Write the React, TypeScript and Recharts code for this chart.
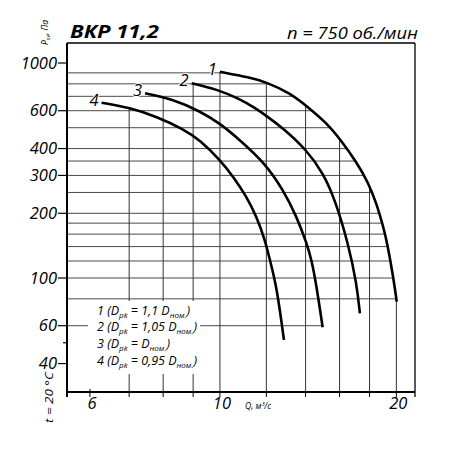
import React from 'react';
import { LineChart, Line, XAxis, YAxis, ReferenceLine } from 'recharts';

// ---- axes ----
const X_DOMAIN: [number, number] = [5.483, 21.52];
const Y_DOMAIN: [number, number] = [29.5, 1239];
const X_TICKS = [6, 7, 8, 9, 10, 12, 14, 16, 18, 20];
const X_LABELS = [6, 10, 20];
const Y_TICKS = [40, 50, 60, 100, 200, 300, 400, 600, 1000];
const Y_LABELS = [40, 60, 100, 200, 300, 400, 600, 1000];

// ---- grid levels ----
const GRID_Y = [900, 800, 700, 600, 500, 400, 350, 300, 250, 200, 180, 160, 140, 120, 100, 80, 60];
const GRID_X = [7, 8, 9, 10, 12, 14, 16, 18, 20];

// ---- curves (Q, m3/s ; P, Pa) ----
const CURVE_LABELS = ['1', '2', '3', '4'];
const Q1 = [10.0, 11.25, 11.98, 13.17, 14.06, 15.21, 16.03, 17.11, 17.91, 18.51, 19.0, 19.3, 19.76, 20.03];
const P1 = [911, 856, 816, 725, 631, 526, 443, 346, 278, 221, 173, 145, 101, 77.6];
const Q2 = [8.95, 9.87, 10.82, 11.47, 11.98, 12.82, 14.06, 15.01, 15.72, 16.55, 17.11, 17.33];
const P2 = [805, 755, 680, 618, 570, 497, 394, 307, 231, 145, 94.5, 68.5];
const Q3 = [7.45, 8.32, 9.245, 10.0, 10.82, 11.94, 12.82, 13.52, 14.06, 14.34, 14.62, 14.97];
const P3 = [723, 678, 597, 524, 438, 342, 257, 193, 145, 121, 91.1, 59];
const Q4 = [6.28, 7.02, 7.8, 8.66, 9.245, 10.0, 10.54, 11.1, 11.55, 11.94, 12.17, 12.5, 12.86];
const P4 = [654, 620, 563, 493, 438, 354, 296, 239, 193, 150, 121, 91.1, 51.5];

const CURVES = [
  { xs: Q1, ys: P1 },
  { xs: Q2, ys: P2 },
  { xs: Q3, ys: P3 },
  { xs: Q4, ys: P4 },
];

const lg = Math.log10;

function xAtLevel(xs: number[], ys: number[], L: number): number | null {
  for (let i = 0; i < xs.length - 1; i++) {
    if ((ys[i] - L) * (ys[i + 1] - L) <= 0) {
      const t = (lg(L) - lg(ys[i])) / (lg(ys[i + 1]) - lg(ys[i]));
      return Math.pow(10, lg(xs[i]) + t * (lg(xs[i + 1]) - lg(xs[i])));
    }
  }
  return null;
}

function yAtX(xs: number[], ys: number[], X: number): number | null {
  for (let i = 0; i < xs.length - 1; i++) {
    if ((xs[i] - X) * (xs[i + 1] - X) <= 0) {
      const t = (lg(X) - lg(xs[i])) / (lg(xs[i + 1]) - lg(xs[i]));
      return Math.pow(10, lg(ys[i]) + t * (lg(ys[i + 1]) - lg(ys[i])));
    }
  }
  return null;
}

const H_SEGMENTS = GRID_Y.map((L) => {
  const ends = CURVES.map((c) => xAtLevel(c.xs, c.ys, L)).filter((v) => v != null) as number[];
  return { L, x2: ends.length ? Math.max(...ends) : null };
}).filter((s) => s.x2 != null) as { L: number; x2: number }[];

const V_SEGMENTS = GRID_X.map((X) => {
  const tops = CURVES.map((c) => yAtX(c.xs, c.ys, X)).filter((v) => v != null) as number[];
  return { X, y2: tops.length ? Math.max(...tops) : null };
}).filter((s) => s.y2 != null) as { X: number; y2: number }[];

const FONT = "'Open Sans', sans-serif";

const YTick = (props: any) => {
  const { x, y, payload } = props;
  const v = payload.value;
  const labeled = Y_LABELS.includes(v);
  return (
    <g>
      <line x1={x - (labeled ? 9 : 4)} x2={x} y1={y} y2={y} stroke="#000" strokeWidth={1.2} />
      {labeled && (
        <text x={x - 10} y={y} dy={5.5} textAnchor="end" fontFamily={FONT} fontStyle="italic" fontSize={16.5} fill="#000">
          {v}
        </text>
      )}
    </g>
  );
};

const XTick = (props: any) => {
  const { x, y, payload } = props;
  const v = payload.value;
  const labeled = X_LABELS.includes(v);
  const isEdge = !X_TICKS.includes(v);
  return (
    <g>
      <line
        x1={x}
        x2={x}
        y1={v === 6 ? y - 3 : y}
        y2={y + 5}
        stroke="#000"
        strokeWidth={isEdge ? (v === X_DOMAIN[0] ? 2 : 1.3) : 1}
      />
      {labeled && (
        <text x={x + 2} y={y + 17} textAnchor="middle" fontFamily={FONT} fontStyle="italic" fontSize={16.5} fill="#000">
          {v}
        </text>
      )}
    </g>
  );
};

const makeLabelDot = (label: string) => (props: any) => {
  const { cx, cy, index } = props;
  if (index !== 0) return <g key={`d-${label}-${index}`} />;
  return (
    <text
      key={`lbl-${label}`}
      x={cx - 3}
      y={cy + 3}
      textAnchor="end"
      fontFamily={FONT}
      fontStyle="italic"
      fontSize={16.5}
      fill="#000"
      stroke="#fff"
      strokeWidth={2}
      paintOrder="stroke"
    >
      {label}
    </text>
  );
};

const LEGEND_LINES: [string, string, string][] = [
  ['1 (D', ' = 1,1 D', ')'],
  ['2 (D', ' = 1,05 D', ')'],
  ['3 (D', ' = D', ')'],
  ['4 (D', ' = 0,95 D', ')'],
];

export default function App() {
  const curveData = CURVES.map((c) => c.xs.map((x, i) => ({ x, y: c.ys[i] })));
  return (
    <div style={{ position: 'absolute', left: 0, top: 0, width: 450, height: 450, background: '#fff' }}>
      <LineChart width={450} height={450} margin={{ top: 42, right: 34, bottom: 0, left: 8 }}>
        <XAxis
          dataKey="x"
          type="number"
          scale="log"
          domain={X_DOMAIN}
          allowDataOverflow
          ticks={[X_DOMAIN[0], ...X_TICKS, X_DOMAIN[1]]}
          interval={0}
          height={58}
          tickSize={0}
          tickMargin={0}
          tickLine={false}
          tick={XTick}
          axisLine={{ stroke: '#000', strokeWidth: 2 }}
        />
        <XAxis
          xAxisId="top"
          orientation="top"
          type="number"
          domain={[0, 1]}
          height={1}
          tick={false}
          tickLine={false}
          axisLine={{ stroke: '#000', strokeWidth: 1.3 }}
        />
        <YAxis
          type="number"
          scale="log"
          domain={Y_DOMAIN}
          allowDataOverflow
          ticks={Y_TICKS}
          interval={0}
          width={59}
          tickSize={0}
          tickMargin={0}
          tickLine={false}
          tick={YTick}
          axisLine={{ stroke: '#000', strokeWidth: 2 }}
        />
        <YAxis
          yAxisId="right"
          orientation="right"
          type="number"
          domain={[0, 1]}
          width={1}
          tick={false}
          tickLine={false}
          axisLine={{ stroke: '#000', strokeWidth: 1.3 }}
        />
        {H_SEGMENTS.map((s) => (
          <ReferenceLine
            key={`h-${s.L}`}
            segment={[
              { x: X_DOMAIN[0], y: s.L },
              { x: s.x2, y: s.L },
            ]}
            stroke="#4a4a4a"
            strokeWidth={1}
            ifOverflow="visible"
          />
        ))}
        {V_SEGMENTS.map((s) => (
          <ReferenceLine
            key={`v-${s.X}`}
            segment={[
              { x: s.X, y: Y_DOMAIN[0] },
              { x: s.X, y: s.y2 },
            ]}
            stroke="#333"
            strokeWidth={1}
            ifOverflow="visible"
          />
        ))}
        {curveData.map((d, i) => (
          <Line
            key={`c-${i}`}
            data={d}
            dataKey="y"
            type="basis"
            stroke="#000"
            strokeWidth={2.6}
            dot={makeLabelDot(CURVE_LABELS[i])}
            activeDot={false}
            isAnimationActive={false}
          />
        ))}
      </LineChart>
      <svg width={450} height={450} style={{ position: 'absolute', left: 0, top: 0, pointerEvents: 'none' }}>
        <text x={70} y={37.7} fontFamily={FONT} fontWeight={700} fontStyle="italic" fontSize={18} textLength={89} lengthAdjust="spacingAndGlyphs" fill="#000">
          ВКР 11,2
        </text>
        <text x={287} y={39.3} fontFamily={FONT} fontStyle="italic" fontSize={15.5} textLength={131} lengthAdjust="spacingAndGlyphs" fill="#000">
          n = 750 об./мин
        </text>
        <text transform="translate(47.5,45) rotate(-90)" fontFamily={FONT} fontStyle="italic" fontSize={8.5} fill="#000">
          P<tspan dy={2.5} fontSize={6}>sv</tspan>
          <tspan dy={-2.5}>, Па</tspan>
        </text>
        <text transform="translate(52.5,423) rotate(-90)" fontFamily={FONT} fontStyle="italic" fontSize={11.5} textLength={51} lengthAdjust="spacingAndGlyphs" fill="#000">
          t = 20 °C
        </text>
        <text x={245} y={409} fontFamily={FONT} fontStyle="italic" fontSize={8.5} fill="#000">
          Q, м³/с
        </text>
        <rect x={88} y={301} width={112} height={73} fill="#fff" />
        {LEGEND_LINES.map((l, i) => (
          <text key={i} x={97} y={314.5 + i * 16.7} fontFamily={FONT} fontStyle="italic" fontSize={12.5} fill="#000">
            {l[0]}
            <tspan dy={3} fontSize={8}>pk</tspan>
            <tspan dy={-3}>{l[1]}</tspan>
            <tspan dy={3} fontSize={8}>ном.</tspan>
            <tspan dy={-3}>{l[2]}</tspan>
          </text>
        ))}
      </svg>
    </div>
  );
}
